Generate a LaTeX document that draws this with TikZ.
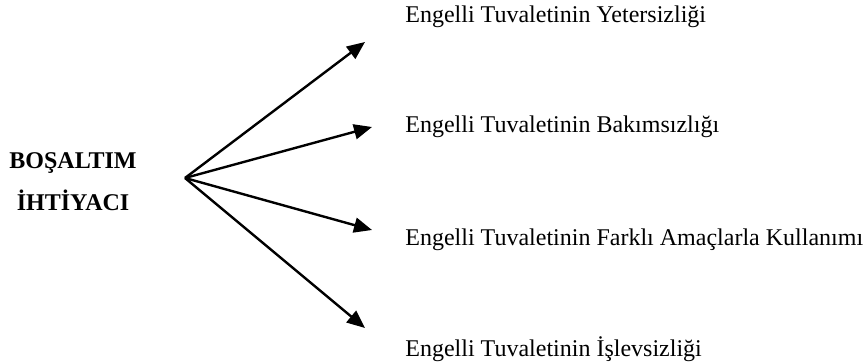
\documentclass[tikz,border=0pt]{standalone}
\usepackage{fontspec}
\setmainfont{Liberation Serif}
\usetikzlibrary{arrows.meta}

\begin{document}
\begin{tikzpicture}[
    x=0.5pt, y=-0.5pt,
    need/.style={font=\bfseries\fontsize{12}{21}\selectfont, align=center, inner sep=0pt},
    item/.style={anchor=base west, font=\fontsize{12}{14}\selectfont, inner sep=0pt},
    rel/.style={-{Triangle[length=9pt, width=7.5pt]}, line width=1.2pt}
]
\useasboundingbox (0,0) rectangle (866,363);

% sol tarafta ana ihtiyaç
\node[need] (need) at (73,182) {BOŞALTIM\\İHTİYACI};
\coordinate (src) at (185,178);

% sağ tarafta sorunlar
\node[item] (yeter)  at (405,23)  {Engelli Tuvaletinin Yetersizliği};
\node[item] (bakim)  at (405,133) {Engelli Tuvaletinin Bakımsızlığı};
\node[item] (farkli) at (405,245) {Engelli Tuvaletinin Farklı Amaçlarla Kullanımı};
\node[item] (islev)  at (405,356) {Engelli Tuvaletinin İşlevsizliği};

% ok uçları
\coordinate (yeterT)  at (365,42);
\coordinate (bakimT)  at (372,127);
\coordinate (farkliT) at (372,230);
\coordinate (islevT)  at (365,328);

% oklar
\draw[rel] (src) -- (yeterT);
\draw[rel] (src) -- (bakimT);
\draw[rel] (src) -- (farkliT);
\draw[rel] (src) -- (islevT);

\end{tikzpicture}
\end{document}
